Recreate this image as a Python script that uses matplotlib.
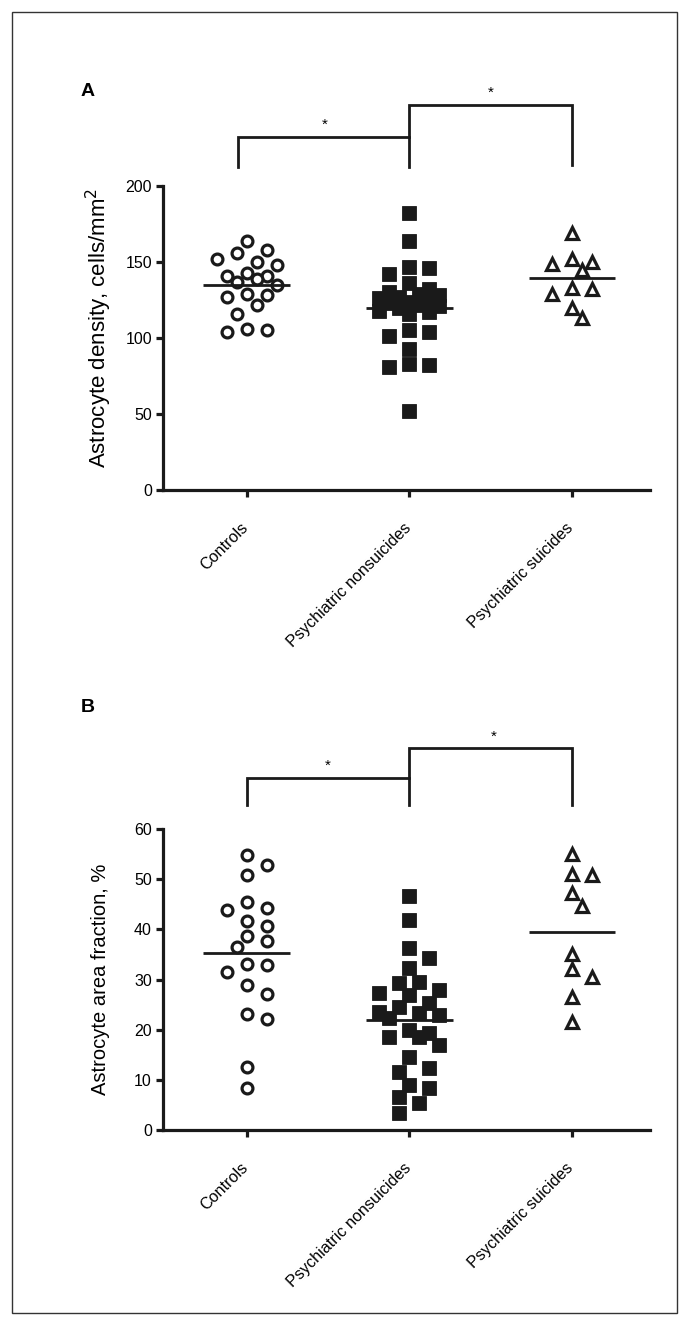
import numpy as np
import matplotlib
matplotlib.use("Agg")
import matplotlib.pyplot as plt
from matplotlib.patches import Rectangle

plt.rcParams['font.family'] = ['Liberation Sans', 'DejaVu Sans']

# ---------------- data ----------------
categories = ["Controls", "Psychiatric nonsuicides", "Psychiatric suicides"]

density_controls = [164, 158, 156, 152, 150, 148, 143, 141, 141, 139, 137, 135,
                    129, 128, 127, 122, 116, 106, 105, 104]
density_nonsuicides = [182, 164, 146, 147, 142, 136, 132, 130, 129, 128, 127, 126,
                       125, 124, 123, 122, 121, 120, 118, 117, 116, 105, 104, 101,
                       93, 82, 81, 83, 52]
density_suicides = [169, 150, 152, 149, 145, 132, 129, 133, 120, 113]

area_controls = [54.8, 52.9, 50.9, 45.5, 43.8, 44.2, 41.7, 40.6, 38.6, 37.6, 36.5,
                 33.0, 32.9, 31.5, 28.9, 27.2, 22.2, 23.2, 12.6, 8.4]
area_nonsuicides = [46.6, 41.8, 36.3, 34.3, 32.3, 29.3, 27.3, 29.5, 27.9, 26.9, 25.3,
                    24.6, 23.3, 23.6, 22.9, 22.3, 19.9, 18.6, 19.3, 18.6, 16.9, 14.5,
                    12.3, 11.6, 9.0, 6.6, 8.4, 3.4, 5.4]
area_suicides = [55.1, 51.1, 50.8, 47.2, 44.6, 35.1, 32.0, 30.5, 26.6, 21.6]

density_ticks = [0, 50, 100, 150, 200]
area_ticks = [0, 10, 20, 30, 40, 50, 60]

# ---------------- layout ----------------
W, H = 690, 1326
fig = plt.figure(figsize=(W / 100, H / 100), dpi=100)


def px_rect(x0, y_top, x1, y_bot):
    return [x0 / W, 1 - y_bot / H, (x1 - x0) / W, (y_bot - y_top) / H]


axA = fig.add_axes(px_rect(163, 186, 650, 490))
axB = fig.add_axes(px_rect(163, 829, 650, 1130))

fig.add_artist(Rectangle((12 / W, 1 - 1313 / H), 665 / W, 1301 / H,
                         transform=fig.transFigure, fill=False, lw=1.0,
                         ec='#333333'))

styles = [
    dict(marker='o', ms=7.8, mfc='white', mec='#1a1a1a', mew=2.3),
    dict(marker='s', ms=10.0, mfc='#1a1a1a', mec='#1a1a1a', mew=0.6),
    dict(marker='^', ms=8.4, mfc='white', mec='#1a1a1a', mew=2.3),
]
thresholds = [14.0, 15.0, 14.5]


def swarm_offsets(ax, x0, values, thr, step=10.0, maxslot=3):
    vals = np.asarray(values, float)
    pts = ax.transData.transform(np.column_stack([np.full(len(vals), x0), vals]))
    ypx = pts[:, 1]
    xpx0 = pts[0, 0]
    slots = [0]
    for k in range(1, maxslot + 1):
        slots += [k, -k]
    placed = []
    off = np.zeros(len(vals))
    for i in np.argsort(-vals, kind='stable'):
        chosen, bestd, bests = None, -1, 0
        for s in slots:
            xp = xpx0 + s * step
            d = min((np.hypot(xp - px, ypx[i] - py) for px, py in placed),
                    default=np.inf)
            if d >= thr:
                chosen = s
                break
            if d > bestd:
                bestd, bests = d, s
        if chosen is None:
            chosen = bests
        off[i] = chosen
        placed.append((xpx0 + chosen * step, ypx[i]))
    px_per_unit = (ax.transData.transform((1, 0))[0] - ax.transData.transform((0, 0))[0])
    return off * step / px_per_unit


def draw_panel(ax, groups, ticks, ylabel, ylabel_size, ylabel_pos, brackets, stars):
    ax.set_xlim(-0.515, 2.48)
    ax.set_ylim(ticks[0], ticks[-1])
    for j, vals in enumerate(groups):
        offs = swarm_offsets(ax, j, vals, thresholds[j])
        ax.plot(np.full(len(vals), j) + offs, vals, ls='none', clip_on=False,
                zorder=3, **styles[j])
        m = np.mean(vals)
        ax.plot([j - 0.267, j + 0.267], [m, m], color='#1a1a1a', lw=2.0,
                zorder=4, solid_capstyle='butt')
    for s in ['top', 'right']:
        ax.spines[s].set_visible(False)
    for s in ['left', 'bottom']:
        ax.spines[s].set_linewidth(2.3)
        ax.spines[s].set_color('#1a1a1a')
    ax.set_yticks(ticks)
    ax.set_xticks(range(len(categories)))
    ax.set_xticklabels([''] * len(categories))
    for j, cat in enumerate(categories):
        ax.annotate(cat, xy=(j, 0), xycoords=('data', 'axes fraction'),
                    xytext=(-4.5, -21.5), textcoords='offset points',
                    rotation=45, ha='right', va='top', rotation_mode='anchor',
                    fontsize=11.6, annotation_clip=False)
    ax.tick_params(axis='y', direction='out', length=5, width=2.3,
                   labelsize=11.5, pad=3, color='#1a1a1a')
    ax.tick_params(axis='x', direction='out', length=5, width=2.3,
                   color='#1a1a1a')
    ax.set_ylabel(ylabel, fontsize=ylabel_size)
    ax.yaxis.set_label_coords(*ylabel_pos)
    for xs, ys in brackets:
        ax.plot(xs, ys, color='#1a1a1a', lw=2.0, clip_on=False,
                solid_joinstyle='miter')
    for x, y in stars:
        ax.text(x, y, '*', ha='center', va='center', fontsize=11)


draw_panel(axA, [density_controls, density_nonsuicides, density_suicides],
           density_ticks, 'Astrocyte density, cells/mm$^2$', 16, (-0.1, 0.533),
           brackets=[([-0.053, -0.053, 1, 1], [212.5, 232.5, 232.5, 212.5]),
                     ([1, 1, 2, 2], [232.5, 253.5, 253.5, 214])],
           stars=[(0.48, 240.5), (1.5, 261.5)])

draw_panel(axB, [area_controls, area_nonsuicides, area_suicides],
           area_ticks, 'Astrocyte area fraction, %', 14.5, (-0.108, 0.5),
           brackets=[([0, 0, 1, 1], [64.7, 70.1, 70.1, 64.7]),
                     ([1, 1, 2, 2], [70.1, 76.1, 76.1, 64.7])],
           stars=[(0.5, 72.6), (1.52, 78.3)])

fig.text(88 / W, 1 - 91 / H, 'A', fontsize=14, fontweight='bold',
         ha='center', va='center')
fig.text(88 / W, 1 - 708 / H, 'B', fontsize=14, fontweight='bold',
         ha='center', va='center')

fig.savefig('out.png', dpi=100)
